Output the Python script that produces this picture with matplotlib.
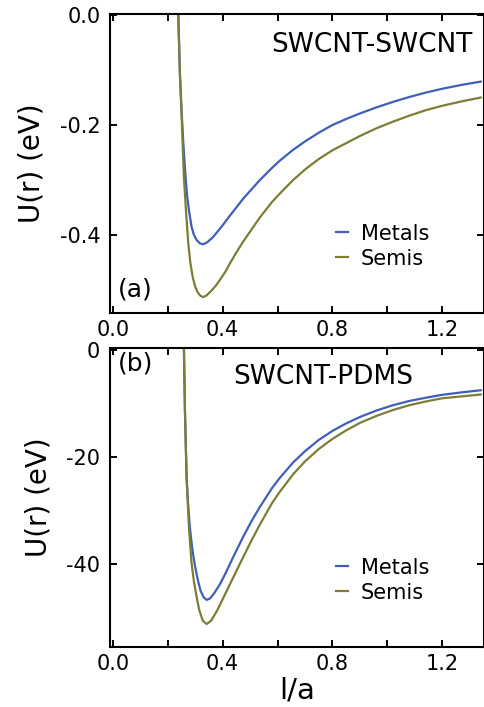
import numpy as np
import matplotlib
matplotlib.use('Agg')
import matplotlib.pyplot as plt
from matplotlib.ticker import MultipleLocator, FormatStrFormatter

# panel (a): SWCNT-SWCNT, U in eV
a_x_met = [0.2375, 0.2386, 0.242, 0.245, 0.250, 0.257, 0.265, 0.271, 0.2775, 0.287, 0.295,
           0.305, 0.317, 0.3295, 0.345, 0.365, 0.390, 0.410, 0.4265, 0.450, 0.475, 0.536,
           0.580, 0.608, 0.657, 0.700, 0.750, 0.800, 0.850, 0.900, 0.960, 1.020, 1.080,
           1.140, 1.200, 1.270, 1.340]
a_y_met = [0.02, 0.0, -0.060, -0.112, -0.168, -0.233, -0.294, -0.330, -0.355, -0.385, -0.399,
           -0.409, -0.415, -0.417, -0.413, -0.404, -0.389, -0.376, -0.365, -0.350, -0.334, -0.300,
           -0.278, -0.265, -0.245, -0.230, -0.214, -0.200, -0.189, -0.179, -0.168, -0.158, -0.149,
           -0.141, -0.134, -0.127, -0.121]
a_x_sem = [0.2375, 0.2386, 0.242, 0.245, 0.250, 0.2545, 0.259, 0.2666, 0.275, 0.283, 0.291,
           0.300, 0.310, 0.320, 0.3295, 0.342, 0.360, 0.375, 0.390, 0.410, 0.4265, 0.450,
           0.475, 0.536, 0.580, 0.608, 0.657, 0.700, 0.750, 0.800, 0.850, 0.900, 0.960,
           1.020, 1.080, 1.140, 1.200, 1.270, 1.340]
a_y_sem = [0.02, 0.0, -0.060, -0.112, -0.170, -0.233, -0.294, -0.355, -0.415, -0.452, -0.476,
           -0.494, -0.505, -0.511, -0.513, -0.510, -0.501, -0.4925, -0.482, -0.467, -0.452, -0.432,
           -0.412, -0.368, -0.340, -0.325, -0.300, -0.281, -0.262, -0.246, -0.233, -0.220, -0.206,
           -0.194, -0.183, -0.173, -0.165, -0.157, -0.150]

# panel (b): SWCNT-PDMS
b_x_met = [0.2585, 0.2593, 0.263, 0.269, 0.275, 0.281, 0.290, 0.299, 0.310, 0.320, 0.331,
           0.342, 0.355, 0.370, 0.390, 0.410, 0.4265, 0.450, 0.475, 0.505, 0.536, 0.580,
           0.608, 0.657, 0.700, 0.750, 0.800, 0.850, 0.900, 0.960, 1.020, 1.080, 1.140,
           1.200, 1.270, 1.340]
b_y_met = [2.0, 0.0, -11.5, -23.9, -29.2, -33.2, -37.3, -40.2, -43.0, -45.0, -46.2,
           -46.7, -46.4, -45.4, -43.8, -41.8, -40.0, -37.5, -34.9, -32.0, -29.3, -25.8,
           -23.9, -21.0, -18.9, -16.8, -15.1, -13.7, -12.5, -11.3, -10.3, -9.5, -8.9,
           -8.35, -7.9, -7.5]
b_x_sem = [0.2585, 0.2593, 0.263, 0.269, 0.2775, 0.287, 0.296, 0.305, 0.315, 0.328, 0.342,
           0.358, 0.380, 0.400, 0.4265, 0.450, 0.475, 0.505, 0.536, 0.580, 0.608, 0.657,
           0.700, 0.750, 0.800, 0.850, 0.900, 0.960, 1.020, 1.080, 1.140, 1.200, 1.270,
           1.340]
b_y_sem = [2.0, 0.0, -11.5, -23.9, -33.2, -39.8, -43.4, -46.0, -48.6, -50.6, -51.2,
           -50.6, -48.7, -46.6, -43.8, -41.3, -38.7, -35.6, -32.6, -28.6, -26.5, -23.2,
           -20.8, -18.5, -16.6, -15.0, -13.6, -12.3, -11.2, -10.3, -9.6, -9.0, -8.65,
           -8.3]

labels = ['Metals', 'Semis']
colors = ['#3f5fb8', '#7d7d35']

plt.rcParams['font.family'] = 'DejaVu Sans'
plt.rcParams['axes.unicode_minus'] = False

W, H = 485, 707
fig = plt.figure(figsize=(W / 100, H / 100), dpi=100)

def px_axes(left, top, right, bottom):
	return fig.add_axes([left / W, 1 - bottom / H, (right - left) / W, (bottom - top) / H])

ax1 = px_axes(110, 14, 484, 313)
ax2 = px_axes(110, 348, 484, 647)

panels = [
	(ax1, (a_x_met, a_y_met), (a_x_sem, a_y_sem), (-0.542, 0.002), 0.2),
	(ax2, (b_x_met, b_y_met), (b_x_sem, b_y_sem), (-55.5, 0.4), 20),
]

for ax, met, sem, ylim, ystep in panels:
	ax.plot(met[0], met[1], color=colors[0], lw=1.6, label=labels[0])
	ax.plot(sem[0], sem[1], color=colors[1], lw=1.6, label=labels[1])
	ax.set_xlim(-0.01, 1.352)
	ax.set_ylim(*ylim)
	ax.xaxis.set_major_locator(MultipleLocator(0.4))
	ax.xaxis.set_minor_locator(MultipleLocator(0.2))
	ax.xaxis.set_major_formatter(FormatStrFormatter('%.1f'))
	ax.yaxis.set_major_locator(MultipleLocator(ystep))
	ax.tick_params(which='both', direction='in', top=True, right=True, width=1.4,
				   length=5, labelsize=15)
	ax.tick_params(axis='y', pad=7)
	ax.tick_params(axis='x', pad=5)
	for sp in ax.spines.values():
		sp.set_linewidth(1.5)
	ax.set_ylabel('U(r) (eV)', fontsize=20, labelpad=10)
	ax.legend(loc='lower right', bbox_to_anchor=(0.875, 0.12), frameon=False,
			  fontsize=15, handlelength=0.6, handletextpad=0.6, labelspacing=0.25,
			  borderaxespad=0)

ax1.yaxis.set_major_formatter(FormatStrFormatter('%.1f'))

ax1.text(0.97, 0.895, 'SWCNT-SWCNT', transform=ax1.transAxes, ha='right', va='center', fontsize=19)
ax1.text(0.02, 0.077, '(a)', transform=ax1.transAxes, ha='left', va='center', fontsize=18)
ax2.text(0.33, 0.903, 'SWCNT-PDMS', transform=ax2.transAxes, ha='left', va='center', fontsize=19)
ax2.text(0.02, 0.949, '(b)', transform=ax2.transAxes, ha='left', va='center', fontsize=18)
ax2.set_xlabel('l/a', fontsize=21, labelpad=2)

fig.savefig('out.png', dpi=100)
